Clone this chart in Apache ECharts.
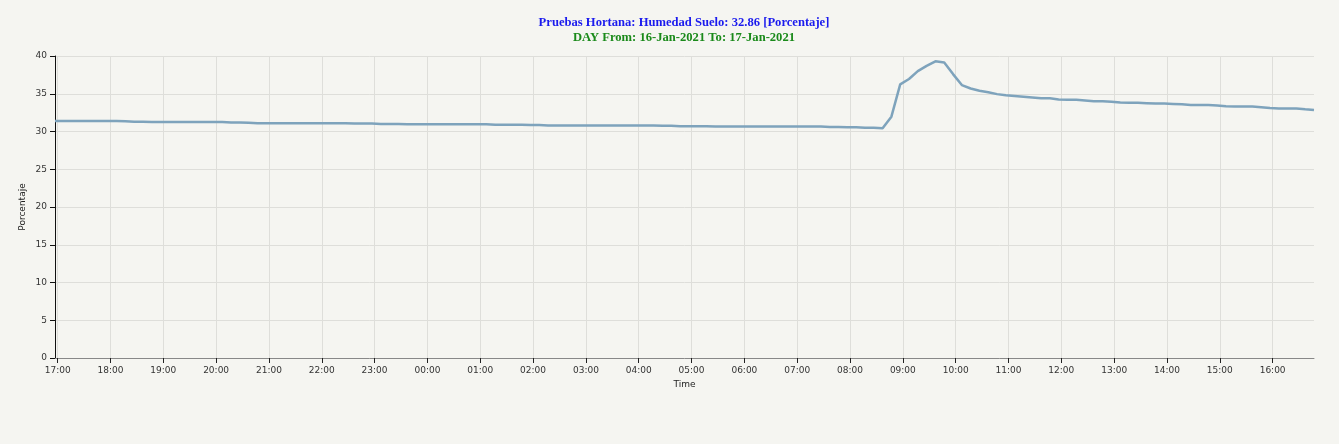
<!DOCTYPE html>
<html><head><meta charset="utf-8">
<script src="https://cdn.jsdelivr.net/npm/echarts@6/dist/echarts.min.js"></script>
<style>html,body{margin:0;padding:0;background:#f5f5f1}#c{width:1339px;height:444px}</style>
</head><body><div id="c"></div>
<script>
// Sampling: first reading 16:57 on 16-Jan-2021, one reading every 10 minutes (minutes relative to 17:00)
const START_MIN = -3;
const STEP_MIN = 10;
const tickLabels = ['17:00','18:00','19:00','20:00','21:00','22:00','23:00','00:00','01:00','02:00','03:00','04:00',
  '05:00','06:00','07:00','08:00','09:00','10:00','11:00','12:00','13:00','14:00','15:00','16:00'];
const humedad = [
  31.4,31.4,31.4,31.4,31.4,31.4,
  31.4,31.4,31.35,31.3,31.3,31.25,
  31.25,31.25,31.25,31.25,31.25,31.25,
  31.25,31.25,31.2,31.2,31.15,31.1,
  31.1,31.1,31.1,31.1,31.1,31.1,
  31.1,31.1,31.1,31.1,31.05,31.05,
  31.05,31.0,31.0,31.0,30.95,30.95,
  30.95,30.95,30.95,30.95,30.95,30.95,
  30.95,30.95,30.9,30.9,30.9,30.9,
  30.85,30.85,30.8,30.8,30.8,30.8,
  30.8,30.8,30.8,30.8,30.8,30.8,
  30.8,30.8,30.8,30.75,30.75,30.7,
  30.7,30.7,30.7,30.65,30.65,30.65,
  30.65,30.65,30.65,30.65,30.65,30.65,
  30.65,30.65,30.65,30.65,30.6,30.6,
  30.55,30.55,30.5,30.5,30.42,31.96,
  36.25,36.95,38.0,38.7,39.3,39.15,
  37.6,36.15,35.7,35.4,35.2,34.95,
  34.8,34.7,34.6,34.5,34.4,34.4,
  34.25,34.2,34.2,34.1,34.0,34.0,
  33.95,33.85,33.8,33.8,33.75,33.7,
  33.7,33.65,33.6,33.5,33.5,33.5,
  33.45,33.35,33.3,33.3,33.3,33.2,
  33.1,33.05,33.05,33.05,32.95,32.86
];
const seriesData = humedad.map((v, i) => [START_MIN + i * STEP_MIN, v]);
const tickValues = tickLabels.map((_, k) => k * 60);
const X_MIN = START_MIN;
const X_MAX = START_MIN + (humedad.length - 1) * STEP_MIN;

const chart = echarts.init(document.getElementById('c'), null, {renderer: 'canvas'});
chart.setOption({
  backgroundColor: '#f5f5f1',
  animation: false,
  title: {
    text: 'Pruebas Hortana: Humedad Suelo: 32.86 [Porcentaje]',
    subtext: 'DAY From: 16-Jan-2021 To: 17-Jan-2021',
    left: 684, top: 16, textAlign: 'center', itemGap: 2, padding: 0,
    textStyle: {fontFamily: 'Liberation Serif', fontWeight: 'bold', fontSize: 12.6, color: '#1a1aee'},
    subtextStyle: {fontFamily: 'Liberation Serif', fontWeight: 'bold', fontSize: 12.6, color: '#1a8a1a'}
  },
  grid: {left: 55, right: 25, top: 56, bottom: 86, containLabel: false},
  xAxis: {
    type: 'value', min: X_MIN, max: X_MAX,
    name: 'Time', nameLocation: 'middle', nameGap: 22, nameMoveOverlap: false,
    nameTextStyle: {fontFamily: 'DejaVu Sans', fontSize: 9, color: '#222'},
    axisLine: {show: true, onZero: false, lineStyle: {color: '#888', width: 1}},
    axisTick: {show: true, length: 5, lineStyle: {color: '#222'}, customValues: tickValues},
    axisLabel: {customValues: tickValues, fontFamily: 'DejaVu Sans', fontSize: 9, color: '#333', margin: 8,
      formatter: v => tickLabels[Math.round(v / 60)] || ''},
    splitLine: {show: true, lineStyle: {color: '#dededa', width: 1}}
  },
  yAxis: {
    type: 'value', min: 0, max: 40, interval: 5,
    name: 'Porcentaje', nameLocation: 'middle', nameGap: 28, nameMoveOverlap: false,
    nameTextStyle: {fontFamily: 'DejaVu Sans', fontSize: 9, color: '#222'},
    axisLine: {show: true, onZero: false, lineStyle: {color: '#111', width: 1}},
    axisTick: {show: true, length: 5, lineStyle: {color: '#111'}},
    axisLabel: {fontFamily: 'DejaVu Sans', fontSize: 9, color: '#333', margin: 8},
    splitLine: {show: true, lineStyle: {color: '#dededa', width: 1}}
  },
  series: [{
    type: 'line', data: seriesData, showSymbol: false, symbol: 'none',
    lineStyle: {color: '#7ea3bc', width: 2.5}, smooth: false
  }]
});
</script></body></html>
